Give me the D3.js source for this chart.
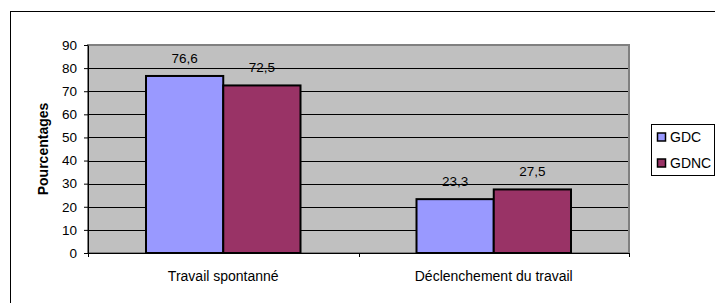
<!DOCTYPE html>
<html>
<head>
<meta charset="utf-8">
<script src="https://d3js.org/d3.v7.min.js"></script>
<style>
  body { margin: 0; background: #fff; }
  text { font-family: "Liberation Sans", Arial, sans-serif; fill: #000; }
</style>
</head>
<body>
<div id="chart"></div>
<script>
// Data
var categories = ["Travail spontanné", "Déclenchement du travail"];
var seriesNames = ["GDC", "GDNC"];
var gdc = [76.6, 23.3];
var gdnc = [72.5, 27.5];
var yTicks = [0, 10, 20, 30, 40, 50, 60, 70, 80, 90];
var colors = ["#9999FF", "#993366"];

var W = 715, H = 303;
var margin = { top: 45, left: 88, right: 86, bottom: 50 };
var width = 629 - margin.left;
var height = 253 - margin.top;

var svg = d3.select("#chart").append("svg")
    .attr("width", W).attr("height", H);

// outer frame
svg.append("rect")
    .attr("x", 10.5).attr("y", 11.5)
    .attr("width", 720).attr("height", 320)
    .attr("fill", "none").attr("stroke", "#000").attr("stroke-width", 1);

var g = svg.append("g").attr("transform", "translate(" + margin.left + "," + margin.top + ")");

var x0 = d3.scaleBand().domain(categories).range([0, width]).paddingInner(0).paddingOuter(0);
var x1 = d3.scaleBand().domain(seriesNames).range([58, x0.bandwidth() - 58]);
var y = d3.scaleLinear().domain([0, 90]).range([height, 0]);

// plot background
g.append("rect").attr("x", 0).attr("y", 0)
    .attr("width", width).attr("height", height)
    .attr("fill", "#C0C0C0");

// gridlines
g.selectAll(".grid").data(yTicks.filter(function(d) { return d > 0; }))
  .enter().append("line")
    .attr("x1", 0).attr("x2", width)
    .attr("y1", function(d) { return Math.round(y(d)) + 0.5; })
    .attr("y2", function(d) { return Math.round(y(d)) + 0.5; })
    .attr("stroke", "#000").attr("stroke-width", 1);

// plot border (grey)
g.append("rect").attr("x", 0).attr("y", 0)
    .attr("width", width).attr("height", height)
    .attr("fill", "none").attr("stroke", "#808080").attr("stroke-width", 2);

// bars
var rows = categories.map(function(c, i) { return { cat: c, vals: [gdc[i], gdnc[i]] }; });
var grp = g.selectAll(".grp").data(rows).enter().append("g")
    .attr("transform", function(d) { return "translate(" + x0(d.cat) + ",0)"; });

grp.selectAll("rect").data(function(d) {
      return d.vals.map(function(v, j) { return { name: seriesNames[j], v: v, j: j }; });
    })
  .enter().append("rect")
    .attr("x", function(d) { return x1(d.name); })
    .attr("y", function(d) { return y(d.v); })
    .attr("width", x1.bandwidth())
    .attr("height", function(d) { return height - y(d.v); })
    .attr("fill", function(d) { return colors[d.j]; })
    .attr("stroke", "#000").attr("stroke-width", 2);

grp.selectAll(".lbl").data(function(d) {
      return d.vals.map(function(v, j) { return { name: seriesNames[j], v: v }; });
    })
  .enter().append("text")
    .attr("x", function(d) { return x1(d.name) + x1.bandwidth() / 2; })
    .attr("y", function(d) { return y(d.v) - 13; })
    .attr("text-anchor", "middle")
    .style("font-size", "13.5px")
    .text(function(d) { return String(d.v).replace(".", ","); });

// y axis
var yAxis = g.append("g")
    .call(d3.axisLeft(y).tickValues(yTicks).tickSize(4).tickSizeOuter(0).tickPadding(7));
yAxis.select(".domain").attr("stroke", "#000");
yAxis.selectAll("text").style("font-size", "13.5px")
    .style("font-family", "'Liberation Sans', Arial, sans-serif");

// x axis with ticks at category boundaries
var xAxis = g.append("g").attr("transform", "translate(0," + height + ")");
xAxis.append("line").attr("x1", 0).attr("x2", width).attr("y1", 0.5).attr("y2", 0.5)
    .attr("stroke", "#000");
var bounds = [0].concat(categories.map(function(c) { return x0(c) + x0.bandwidth(); }));
xAxis.selectAll(".tk").data(bounds).enter().append("line")
    .attr("x1", function(d) { return Math.round(d) + 0.5; })
    .attr("x2", function(d) { return Math.round(d) + 0.5; })
    .attr("y1", 0).attr("y2", 4).attr("stroke", "#000");
xAxis.selectAll(".cl").data(categories).enter().append("text")
    .attr("x", function(d) { return x0(d) + x0.bandwidth() / 2; })
    .attr("y", 28)
    .attr("text-anchor", "middle")
    .style("font-size", "14px")
    .text(function(d) { return d; });

// y title
svg.append("text")
    .attr("transform", "translate(48," + (margin.top + height / 2) + ") rotate(-90)")
    .attr("text-anchor", "middle")
    .style("font-size", "14px").style("font-weight", "bold")
    .text("Pourcentages");

// legend
var lg = svg.append("g").attr("transform", "translate(651,124)");
lg.append("rect").attr("x", 0.5).attr("y", 0.5).attr("width", 63).attr("height", 51)
    .attr("fill", "#fff").attr("stroke", "#000");
var items = lg.selectAll(".it").data(seriesNames).enter().append("g")
    .attr("transform", function(d, i) { return "translate(6," + (13 + i * 26) + ")"; });
items.append("rect").attr("x", 0.5).attr("y", -4).attr("width", 8).attr("height", 8)
    .attr("fill", function(d, i) { return colors[i]; })
    .attr("stroke", "#000").attr("stroke-width", 1.5);
items.append("text").attr("x", 13).attr("y", 5)
    .style("font-size", "14px")
    .text(function(d) { return d; });
</script>
</body>
</html>
